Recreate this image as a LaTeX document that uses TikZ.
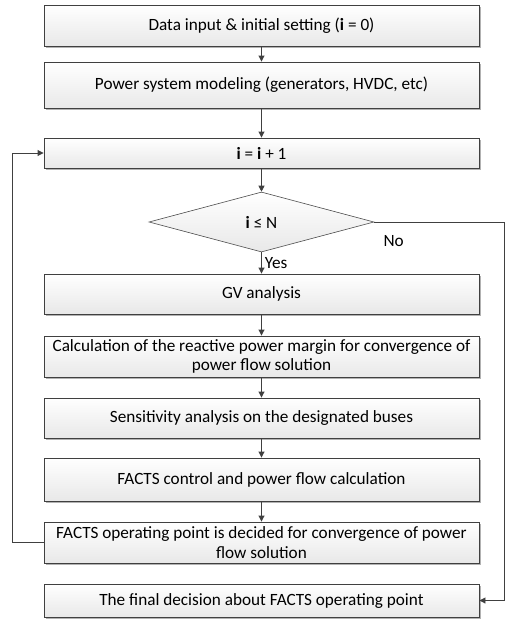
\documentclass[tikz,border=0pt]{standalone}
\usepackage{fontspec}
\setmainfont{Carlito}
\usetikzlibrary{shapes.geometric,shadows,arrows.meta}

\tikzset{
  stepbox/.style={draw=black!75, line width=0.9pt, rectangle, top color=white, bottom color=black!9,
    drop shadow={shadow xshift=1.6pt, shadow yshift=-1.6pt, fill=black!30, opacity=1},
    minimum width=435pt, inner sep=0pt, align=center, font=\fontsize{17.2}{19.5}\selectfont},
  decide/.style={draw=black!70, line width=0.6pt, diamond, top color=white, bottom color=black!9,
    minimum width=225pt, minimum height=60pt, inner sep=0pt, font=\fontsize{17.2}{19.5}\selectfont},
  flow/.style={draw=black!75, line width=0.9pt, -{Triangle[length=6pt,width=6pt]}},
  lbl/.style={font=\fontsize{17.2}{19.5}\selectfont, inner sep=0pt}
}

\begin{document}
\begin{tikzpicture}[x=1pt,y=-1pt]
			%%%%% START %%%%%
			\useasboundingbox (0,0) rectangle (504,627);
			
			\node[stepbox, minimum height=41pt] (init) at (261.5,25.5) {Data input \& initial setting (\textbf{i} = 0)};
			\node[stepbox, minimum height=46pt] (model) at (261.5,85) {Power system modeling (generators, HVDC, etc)};
			\node[stepbox, minimum height=30pt] (inc) at (261.5,153) {\textbf{i} = \textbf{i} + 1};
			\node[decide] (test) at (261.5,222) {\textbf{i} ≤ N};
			\node[stepbox, minimum height=40pt] (gv) at (261.5,294) {GV analysis};
			\node[stepbox, minimum height=41pt] (margin) at (261.5,356.5) {Calculation of the reactive power margin for convergence of\\power flow solution};
			\node[stepbox, minimum height=40pt] (sens) at (261.5,418) {Sensitivity analysis on the designated buses};
			\node[stepbox, minimum height=43pt] (ctrl) at (261.5,479.5) {FACTS control and power flow calculation};
			\node[stepbox, minimum height=41pt] (oppt) at (261.5,542.5) {FACTS operating point is decided for convergence of power\\flow solution};
			\node[stepbox, minimum height=33pt] (final) at (261.5,600.5) {The final decision about FACTS operating point};
			
			\coordinate (edge) at (504,222);
			
			\draw[flow] (init) -- (model);
			\draw[flow] (model) -- (inc);
			\draw[flow] (inc) -- (test);
			\draw[flow] (test) -- node[lbl, right, xshift=3pt] (yes) {Yes} (gv);
			\draw[flow] (gv) -- (margin);
			\draw[flow] (margin) -- (sens);
			\draw[flow] (sens) -- (ctrl);
			\draw[flow] (ctrl) -- (oppt);
			
			% loop back and exit
			\draw[flow] (oppt.west) -- ++(-31,0) |- (inc.west);
			\draw[flow] (test.east) -- (edge) |- (final.east);
			\node[lbl, anchor=north west] (no) at ([xshift=9pt,yshift=-13pt]test.east) {No};
			%%%%% END %%%%%
\end{tikzpicture}
\end{document}
